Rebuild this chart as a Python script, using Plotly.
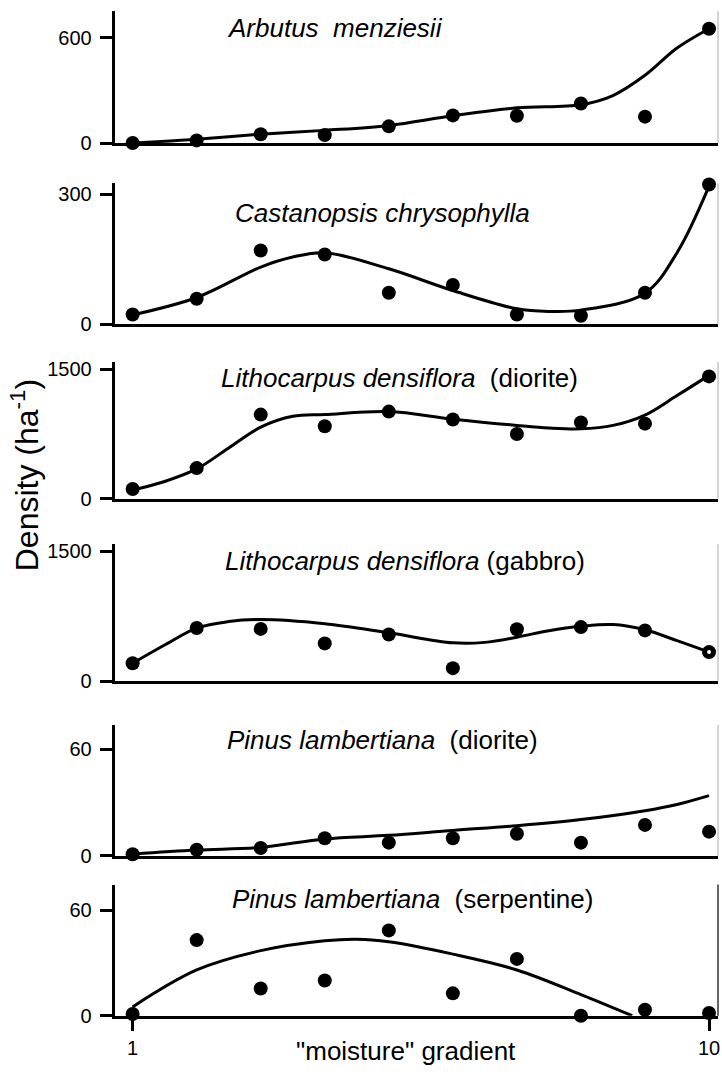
import plotly.graph_objects as go

# ---------------- data ----------------
X = [1, 2, 3, 4, 5, 6, 7, 8, 9, 10]
x_tick_vals = [1, 10]
x_tick_text = ["1", "10"]

panel_titles = [
    "<i>Arbutus\u00a0\u00a0menziesii</i>",
    "<i>Castanopsis chrysophylla</i>",
    "<i>Lithocarpus densiflora</i>\u00a0\u00a0(diorite)",
    "<i>Lithocarpus densiflora</i> (gabbro)",
    "<i>Pinus lambertiana</i>\u00a0\u00a0(diorite)",
    "<i>Pinus lambertiana</i>\u00a0\u00a0(serpentine)",
]
y_top_ticks = [600, 300, 1500, 1500, 60, 60]

arbutus_pts = [0, 15, 50, 45, 95, 157, 155, 225, 150, 650]
arbutus_fit_x = [1, 2, 3, 4, 5, 6, 7, 8, 8.5, 9, 9.5, 10]
arbutus_fit_y = [0, 22, 50, 72, 100, 155, 200, 218, 270, 385, 540, 650]

castanopsis_pts = [23, 59, 170, 161, 73, 91, 23, 20, 73, 322]
castanopsis_fit_x = [1, 2, 3, 3.5, 4, 5, 6, 7, 7.5, 8, 9, 9.5, 10]
castanopsis_fit_y = [22, 62, 132, 155, 165, 128, 78, 36, 30, 33, 72, 165, 318]

lith_dio_pts = [112, 355, 975, 840, 1010, 918, 750, 885, 870, 1418]
lith_dio_fit_x = [1, 1.5, 2, 2.5, 3, 3.5, 4, 5, 6, 7, 7.5, 8, 8.5, 9, 9.5, 10]
lith_dio_fit_y = [100, 200, 345, 588, 829, 955, 976, 1010, 922, 850, 820, 810, 850, 970, 1196, 1430]

lith_gab_pts = [210, 615, 605, 438, 540, 153, 602, 626, 588, 338]
lith_gab_fit_x = [1, 1.5, 2, 2.5, 3, 4, 5, 6, 6.5, 7, 7.5, 8, 8.5, 9, 9.5, 10]
lith_gab_fit_y = [210, 420, 615, 690, 713, 665, 560, 445, 450, 510, 585, 635, 655, 595, 470, 338]

pinus_dio_pts = [1, 3.5, 4.5, 10, 7.5, 10, 12.5, 7.5, 17.5, 13.7]
pinus_dio_fit_x = [1, 2, 3, 4, 5, 6, 7, 8, 9, 9.5, 10]
pinus_dio_fit_y = [1, 3.3, 4.8, 9.6, 11.6, 14.4, 17, 20.5, 25.5, 29, 34]

pinus_ser_pts = [1, 43, 15.5, 20, 48.5, 12.7, 32.3, 0, 3.4, 1.5]
pinus_ser_fit_x = [1, 2, 3, 4, 4.5, 5, 6, 7, 8, 8.8]
pinus_ser_fit_y = [5, 26, 37, 42.6, 43.5, 42, 35, 26, 12, 0]

points = [arbutus_pts, castanopsis_pts, lith_dio_pts, lith_gab_pts, pinus_dio_pts, pinus_ser_pts]
fits = [
    (arbutus_fit_x, arbutus_fit_y),
    (castanopsis_fit_x, castanopsis_fit_y),
    (lith_dio_fit_x, lith_dio_fit_y),
    (lith_gab_fit_x, lith_gab_fit_y),
    (pinus_dio_fit_x, pinus_dio_fit_y),
    (pinus_ser_fit_x, pinus_ser_fit_y),
]

# ---------------- layout geometry (pixels) ----------------
W, H = 722, 1076
FONT = "Liberation Sans, Arial, Helvetica, sans-serif"
# (zero-line px, axis-top px, top-tick px)
geom = [
    (141, 7, 34),
    (325, 182, 192.7),
    (501.7, 363, 370.5),
    (687, 548, 555),
    (864, 731, 756),
    (1026, 893, 919),
]
title_pos = [(226, 24), (234, 212), (220, 379), (224, 565), (226, 746), (231, 908)]

x_left_px, x_right_px = 115, 720
x1_px, x10_px = 133, 711
u = (x10_px - x1_px) / 9.0
x_range = [1 - (x1_px - x_left_px) / u, 10 + (x_right_px - x10_px) / u]
x_domain = [x_left_px / W, x_right_px / W]

fig = go.Figure()
layout = dict(
    width=W, height=H,
    margin=dict(l=0, r=0, t=0, b=0),
    paper_bgcolor="white", plot_bgcolor="white",
    showlegend=False,
    font=dict(family=FONT, color="black"),
    annotations=[], shapes=[],
)

for i in range(6):
    n = i + 1
    xa = "x" if n == 1 else f"x{n}"
    ya = "y" if n == 1 else f"y{n}"
    z, T, t = geom[i]
    v = y_top_ticks[i]
    ytop = v * (z - T) / (z - t)

    fx, fy = fits[i]
    fig.add_trace(go.Scatter(
        x=fx, y=fy, mode="lines", xaxis=xa, yaxis=ya,
        line=dict(color="black", width=3, shape="spline", smoothing=1.0),
        cliponaxis=False, hoverinfo="skip",
    ))
    fig.add_trace(go.Scatter(
        x=X, y=points[i], mode="markers", xaxis=xa, yaxis=ya,
        marker=dict(color="black", size=14, line=dict(width=0)),
        cliponaxis=False,
    ))

    last = (i == 5)
    layout[f"xaxis{'' if n == 1 else n}"] = dict(
        domain=x_domain, range=x_range, anchor=ya,
        showline=True, linewidth=3, linecolor="black",
        showgrid=False, zeroline=False,
        tickvals=x_tick_vals if last else [],
        ticktext=x_tick_text if last else [],
        ticks="outside" if last else "",
        ticklen=12, tickwidth=3, tickcolor="black",
        ticklabeloverflow="allow",
        tickfont=dict(size=20, family=FONT, color="black"),
        showticklabels=last,
    )
    layout[f"yaxis{'' if n == 1 else n}"] = dict(
        domain=[1 - z / H, 1 - T / H], range=[0, ytop], anchor=xa,
        showline=True, linewidth=3, linecolor="black",
        showgrid=False, zeroline=False,
        tickvals=[0, v], ticktext=["0", str(v)],
        ticks="outside", ticklen=12, tickwidth=3, tickcolor="black",
        ticklabelstandoff=4,
        tickfont=dict(size=20, family=FONT, color="black"),
    )
    # light right frame edge
    layout["shapes"].append(dict(
        type="line", xref=f"{xa} domain", yref=f"{ya} domain",
        x0=1, x1=1, y0=0, y1=1,
        line=dict(color="#333333" if last else "#aaaaaa", width=1.5 if last else 1),
    ))
    tx, ty = title_pos[i]
    layout["annotations"].append(dict(
        text=panel_titles[i], xref="paper", yref="paper",
        x=tx / W, y=1 - ty / H, xanchor="left", yanchor="middle",
        showarrow=False, font=dict(size=26, family=FONT, color="black"),
    ))

# open centre on the last gabbro point
fig.add_trace(go.Scatter(
    x=[X[-1]], y=[lith_gab_pts[-1]], mode="markers", xaxis="x4", yaxis="y4",
    marker=dict(color="white", size=4), cliponaxis=False,
))

layout["annotations"].append(dict(
    text="Density (ha<sup>-1</sup>)", xref="paper", yref="paper",
    x=25 / W, y=1 - 478 / H, xanchor="center", yanchor="middle",
    textangle=-90, showarrow=False, font=dict(size=32, family=FONT, color="black"),
))
layout["annotations"].append(dict(
    text='"moisture" gradient', xref="paper", yref="paper",
    x=407 / W, y=1 - 1062 / H, xanchor="center", yanchor="middle",
    showarrow=False, font=dict(size=26, family=FONT, color="black"),
))

fig.update_layout(**layout)
fig.write_html("out.html")
